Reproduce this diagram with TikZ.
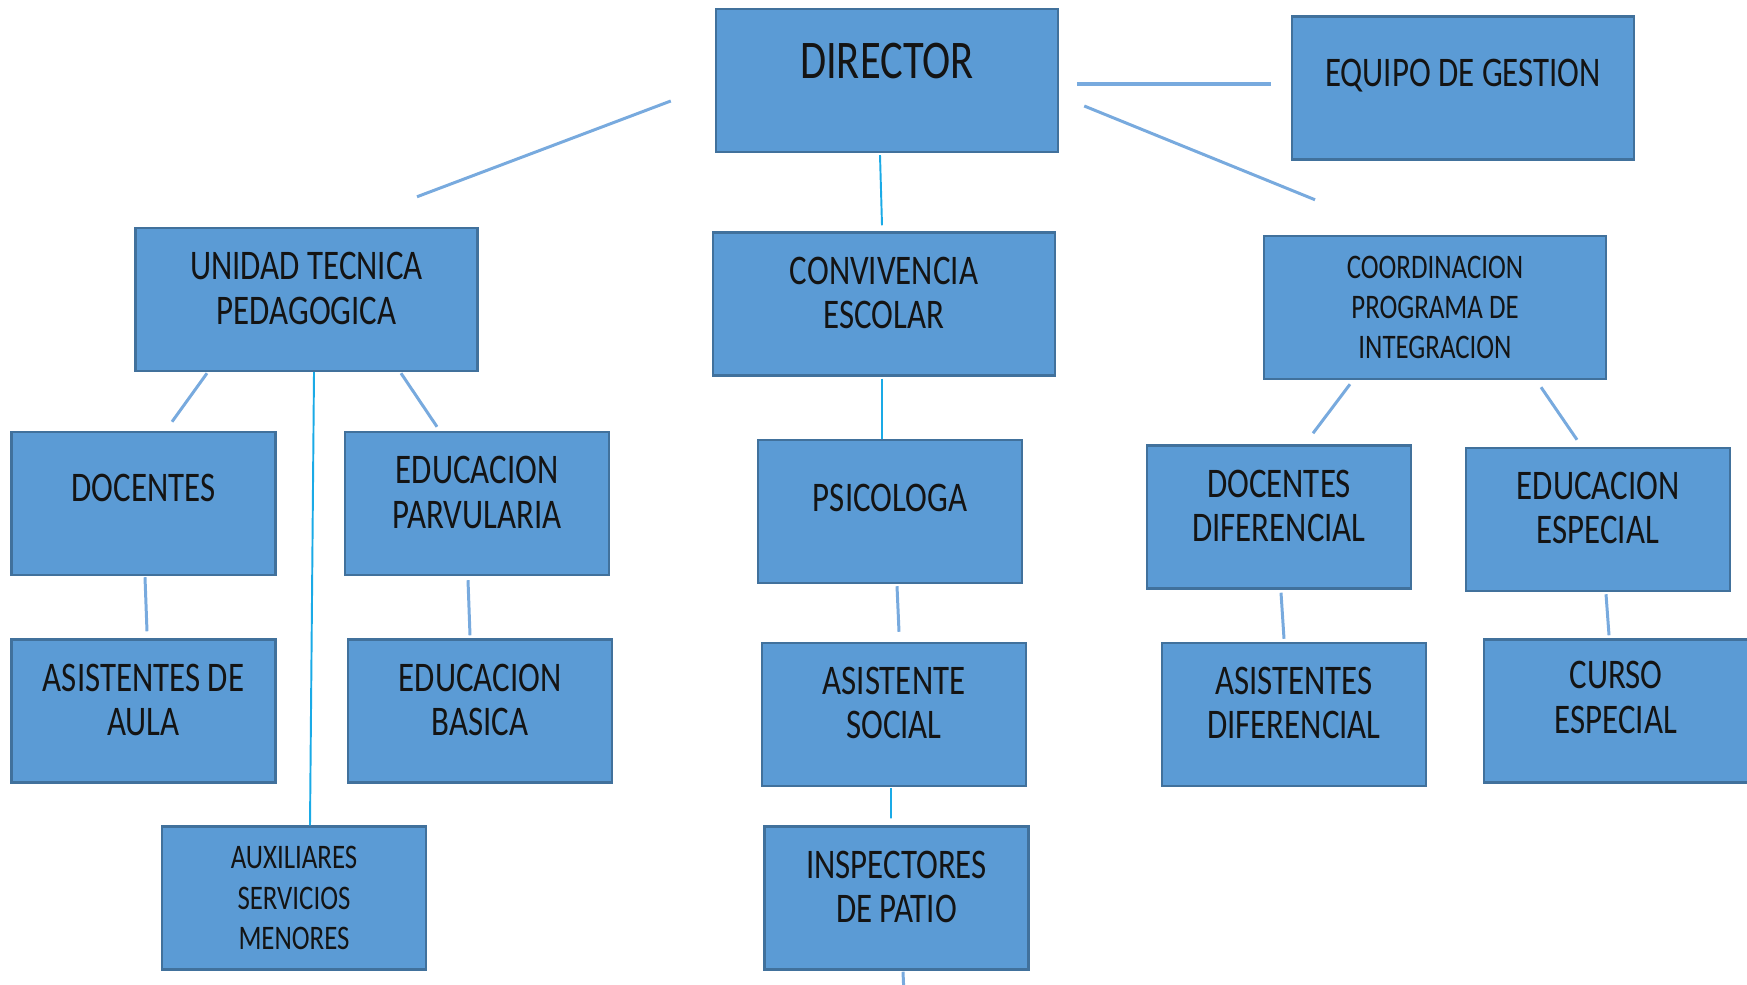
\documentclass[tikz,border=0pt]{standalone}
\usepackage{fontspec}
\setmainfont{Carlito}[FakeStretch=0.78]
\definecolor{azul}{HTML}{5B9BD5}
\definecolor{borde}{HTML}{41719C}
\definecolor{linea}{RGB}{120,170,222}
\definecolor{cian}{HTML}{1AAAE6}
\begin{document}
\begin{tikzpicture}
	% estilos
	\tikzstyle{cargo}=[rectangle,draw=borde,line width=0.7pt,fill=azul,minimum width=3.42cm,minimum height=1.43cm]
	\tikzstyle{cargochico}=[cargo,minimum width=2.64cm]
	\tikzstyle{texto}=[align=center,text=black!92,font=\fontsize{12}{12.7}\selectfont]
	\tikzstyle{textochico}=[texto,font=\fontsize{9.8}{11.4}\selectfont]
	\tikzstyle{enlace}=[draw=linea,line width=0.85pt]
	\tikzstyle{enlacec}=[draw=cian,line width=0.55pt]
	\useasboundingbox (0,0) rectangle (17.47,-9.85);
	% los cargos
	\node[cargo] (dir) at (8.87,-0.805) {};
	\node[cargo] (equipo) at (14.63,-0.88) {};
	\node[cargo] (utp) at (3.065,-2.995) {};
	\node[cargo] (conv) at (8.84,-3.04) {};
	\node[cargo] (coord) at (14.35,-3.075) {};
	\node[cargochico] (doc) at (1.435,-5.035) {};
	\node[cargochico] (parv) at (4.77,-5.035) {};
	\node[cargochico] (psic) at (8.90,-5.115) {};
	\node[cargochico] (docdif) at (12.79,-5.17) {};
	\node[cargochico] (edesp) at (15.98,-5.195) {};
	\node[cargochico] (asau) at (1.435,-7.11) {};
	\node[cargochico] (basica) at (4.80,-7.11) {};
	\node[cargochico] (asoc) at (8.94,-7.145) {};
	\node[cargochico] (asdif) at (12.94,-7.145) {};
	\node[cargochico] (curso) at (16.16,-7.11) {};
	\node[cargochico] (aux) at (2.94,-8.98) {};
	\node[cargochico] (insp) at (8.965,-8.98) {};
	% los textos
	\node[texto,font=\fontsize{15.5}{17}\selectfont] (dirT) at ([yshift=0.195cm]dir.center) {DIRECTOR};
	\node[texto] (equipoT) at ([yshift=0.12cm]equipo.center) {EQUIPO DE GESTION};
	\node[texto] (utpT) at ([yshift=0.11cm]utp.center) {UNIDAD TECNICA\\PEDAGOGICA};
	\node[texto] (convT) at ([yshift=0.11cm]conv.center) {CONVIVENCIA\\ESCOLAR};
	\node[textochico] (coordT) at (coord.center) {COORDINACION\\PROGRAMA DE\\INTEGRACION};
	\node[texto] (docT) at ([yshift=0.155cm]doc.center) {DOCENTES};
	\node[texto] (parvT) at ([yshift=0.11cm]parv.center) {EDUCACION\\PARVULARIA};
	\node[texto] (psicT) at ([yshift=0.135cm]psic.center) {PSICOLOGA};
	\node[texto] (docdifT) at ([yshift=0.11cm]docdif.center) {DOCENTES\\DIFERENCIAL};
	\node[texto] (edespT) at ([yshift=0.115cm]edesp.center) {EDUCACION\\ESPECIAL};
	\node[texto] (asauT) at ([yshift=0.11cm]asau.center) {ASISTENTES DE\\AULA};
	\node[texto] (basicaT) at ([yshift=0.11cm]basica.center) {EDUCACION\\BASICA};
	\node[texto] (asocT) at ([yshift=0.115cm]asoc.center) {ASISTENTE\\SOCIAL};
	\node[texto] (asdifT) at ([yshift=0.115cm]asdif.center) {ASISTENTES\\DIFERENCIAL};
	\node[texto] (cursoT) at ([yshift=0.135cm]curso.center) {CURSO\\ESPECIAL};
	\node[textochico] (auxT) at (aux.center) {AUXILIARES\\SERVICIOS\\MENORES};
	\node[texto] (inspT) at ([yshift=0.11cm]insp.center) {INSPECTORES\\DE PATIO};
	% las lineas
	\draw[enlace] ([shift={(-0.44,-0.205)}]dir.west) -- ([shift={(1.105,0.30)}]utp.north);
	\draw[enlace,line width=1.1pt] ([shift={(0.18,-0.035)}]dir.east) -- ([shift={(-0.20,0.04)}]equipo.west);
	\draw[enlace] ([shift={(0.25,-0.255)}]dir.east) -- ([shift={(-1.20,0.35)}]coord.north);
	\draw[enlacec] ([shift={(-0.07,-0.02)}]dir.south) -- ([shift={(-0.02,0.06)}]conv.north);
	\draw[enlace] ([shift={(-0.995,-0.01)}]utp.south) -- ([shift={(0.285,0.09)}]doc.north);
	\draw[enlacec] ([shift={(0.075,0)}]utp.south) -- ([shift={(0.16,0)}]aux.north);
	\draw[enlace] ([shift={(0.945,-0.01)}]utp.south) -- ([shift={(-0.40,0.04)}]parv.north);
	\draw[enlace] ([shift={(0.015,-0.01)}]doc.south) -- ([shift={(0.035,0.07)}]asau.north);
	\draw[enlace] ([shift={(-0.09,-0.04)}]parv.south) -- ([shift={(-0.10,0.03)}]basica.north);
	\draw[enlacec] ([shift={(-0.02,-0.02)}]conv.south) -- ([shift={(-0.08,0)}]psic.north);
	\draw[enlace] ([shift={(0.07,-0.02)}]psic.south) -- ([shift={(0.05,0.10)}]asoc.north);
	\draw[enlacec] ([shift={(-0.03,-0.01)}]asoc.south) -- ([shift={(-0.055,0.07)}]insp.north);
	\coordinate (abajo) at (9.04,-9.95);
	\draw[enlace] ([shift={(0.065,-0.01)}]insp.south) -- (abajo);
	\draw[enlace] ([shift={(-0.85,-0.04)}]coord.south) -- ([shift={(0.34,0.11)}]docdif.north);
	\draw[enlace] ([shift={(1.06,-0.07)}]coord.south) -- ([shift={(-0.21,0.07)}]edesp.north);
	\draw[enlace] ([shift={(0.02,-0.03)}]docdif.south) -- ([shift={(-0.10,0.03)}]asdif.north);
	\draw[enlace] ([shift={(0.08,-0.02)}]edesp.south) -- ([shift={(-0.07,0.03)}]curso.north);
\end{tikzpicture}
\end{document}
